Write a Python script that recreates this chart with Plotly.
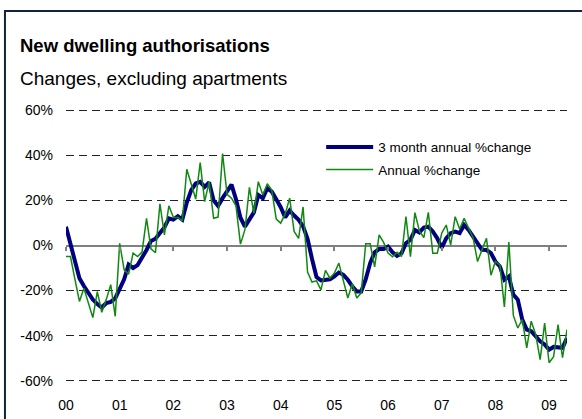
import plotly.graph_objects as go
import pandas as pd

months = pd.date_range("2000-01-01", "2009-05-01", freq="MS").strftime("%Y-%m").tolist()

three_month = [
    8.3, 1, -8, -14.5, -18, -21, -24, -26, -27.5, -25.5, -25, -23.5,
    -19, -15, -8.5, -10, -8.7, -5.7, -2, 2, 3, 5.5, 8, 12,
    11.5, 13, 11.5, 19, 24.6, 27.5, 28.2, 26, 28, 20, 17.5, 21,
    24, 27, 20.5, 12.3, 8.4, 11.7, 14.7, 22.4, 21, 25.4, 23.9, 20.5,
    17, 12.5, 15.5, 13.3, 11.4, 8.5, 3, -6, -14, -15.5, -15.2, -15,
    -13.7, -12, -13, -15.2, -18.1, -20.4, -20.4, -15, -7.8, -3, -1.6, -1.6,
    -0.5, -3, -4.6, -3.5, 1, 2.5, 6.9, 5.8, 8, 8.4, 6.2, 3.2,
    -1, 3.2, 5.5, 6.2, 5.5, 9.1, 6.9, 4, 0.5, -1.9, -2, -3.4,
    -7.1, -9.3, -15.2, -13.7, -21.8, -24, -32.9, -37.3, -38, -40.3, -42.5, -43.9,
    -46.2, -45, -45, -45.4, -41,
]

annual = [
    -4.9, -4.9, -15, -24.8, -19, -25.5, -32, -20.5, -29.6, -24, -17.4, -31.4,
    1, -10.8, -12.7, -3.4, -4.9, -2.9, 12, -1.5, -3.2, 18.5, 4.7, 17.6,
    12.5, 12.4, 11, 33.8, 26.8, 20.6, 36.8, 19.5, 28.3, 12.1, 12.6, 40.8,
    22.7, 21, 17.6, 0.6, 7, 25.8, 14.3, 28.3, 22.4, 27.4, 24.6, 11.7,
    9.9, 14, 21, 6.2, 3.2, 17.1, -11.8, -16.2, -15.7, -19.7, -11, -14.5,
    -12.2, -7.8, -15.6, -23.3, -17, -23.3, -21, 0.8, 0.8, -9.5, 4.7, 1.4,
    -3.4, -5, -3, -4.9, 12.8, -4.9, 14.6, 6.5, 3.5, 14.7, -3.4, -3.4,
    5.5, 9.1, 0.3, 12.8, 7.3, 12.1, 7.7, 3.5, -7.1, -2, 3.2, -13.2,
    -7.1, -8.6, -27.3, 1.5, -31, -36.6, -32.9, -45.4, -33.6, -39.5, -50.6, -34.4,
    -52, -49.3, -35.1, -49.8, -37.3,
]

year_labels = ["00", "01", "02", "03", "04", "05", "06", "07", "08", "09"]
y_ticks = [-60, -40, -20, 0, 20, 40, 60]

x = list(range(len(months)))
jan_idx = [i for i, m in enumerate(months) if m.endswith("-01")]

FONT = "Liberation Sans, Arial, sans-serif"

fig = go.Figure()
fig.add_trace(go.Scatter(
    x=x, y=three_month, mode="lines", name="3 month annual %change",
    line=dict(color="#000080", width=4), legendgroup="a",
))
fig.add_trace(go.Scatter(
    x=x, y=annual, mode="lines", name="Annual %change",
    line=dict(color="#118811", width=1.5), legendgroup="b",
))

W, H = 582, 419
YPAD = 1.0  # extra data units above/below +-60 so edge gridlines are drawn
unit = 271 / 120.0
L, R = 66, 15.3
T = 110 - YPAD * unit
B = 38 - YPAD * unit
pw = W - L - R
ph = H - T - B

def px(xp):
    return (xp - L) / pw

def py(yp):
    return (H - B - yp) / ph

fig.update_layout(
    width=W, height=H,
    margin=dict(l=L, r=R, t=T, b=B, pad=0, autoexpand=False),
    paper_bgcolor="white", plot_bgcolor="white",
    font=dict(family=FONT, color="black", size=13),
    showlegend=True,
    legend=dict(
        x=px(321), y=py(131.5), xanchor="left", yanchor="top",
        bgcolor="rgba(0,0,0,0)", font=dict(size=13.5, family=FONT),
        itemwidth=47, tracegroupgap=2,
    ),
    xaxis=dict(
        range=[0, len(months) - 1], tickvals=jan_idx, ticktext=year_labels,
        showgrid=False, zeroline=False, showline=False, ticks="",
        ticklabelstandoff=12, tickfont=dict(size=14), automargin=False,
    ),
    xaxis2=dict(
        overlaying="x", matches="x", anchor="free", position=0.5,
        range=[0, len(months) - 1], tickvals=jan_idx, showticklabels=False,
        ticks="outside", ticklen=4, tickcolor="#808080", tickwidth=1.5,
        showline=False, showgrid=False, zeroline=False, side="bottom",
        automargin=False,
    ),
    yaxis=dict(
        range=[-60 - YPAD, 60 + YPAD], tickvals=y_ticks,
        ticktext=[f"{v}%" for v in y_ticks],
        showgrid=True, gridcolor="#222222", gridwidth=1, griddash="8px,5px",
        zeroline=True, zerolinecolor="#808080", zerolinewidth=2,
        showline=False, ticks="", ticklabelstandoff=12,
        tickfont=dict(size=14), automargin=False,
    ),
    annotations=[
        dict(text="<b>New dwelling authorisations</b>", xref="paper", yref="paper",
             x=px(18), y=py(58), xanchor="left", yanchor="bottom", showarrow=False,
             font=dict(size=18.5, family=FONT, color="black")),
        dict(text="Changes, excluding apartments", xref="paper", yref="paper",
             x=px(18), y=py(91), xanchor="left", yanchor="bottom", showarrow=False,
             font=dict(size=19, family=FONT, color="black")),
    ],
    shapes=[
        dict(type="rect", xref="paper", yref="paper", layer="above",
             x0=px(285), x1=1.0, y0=py(186), y1=py(128),
             fillcolor="white", line=dict(width=0)),
        dict(type="rect", xref="paper", yref="paper", layer="above",
             x0=px(5), x1=px(600), y0=py(440), y1=py(10.5),
             fillcolor="rgba(0,0,0,0)", line=dict(color="#0f2440", width=2)),
    ],
)

# invisible trace so xaxis2 is drawn
fig.add_trace(go.Scatter(x=[0], y=[0], xaxis="x2", mode="markers",
                         marker=dict(opacity=0), showlegend=False, hoverinfo="skip"))

fig.write_html("out.html")
